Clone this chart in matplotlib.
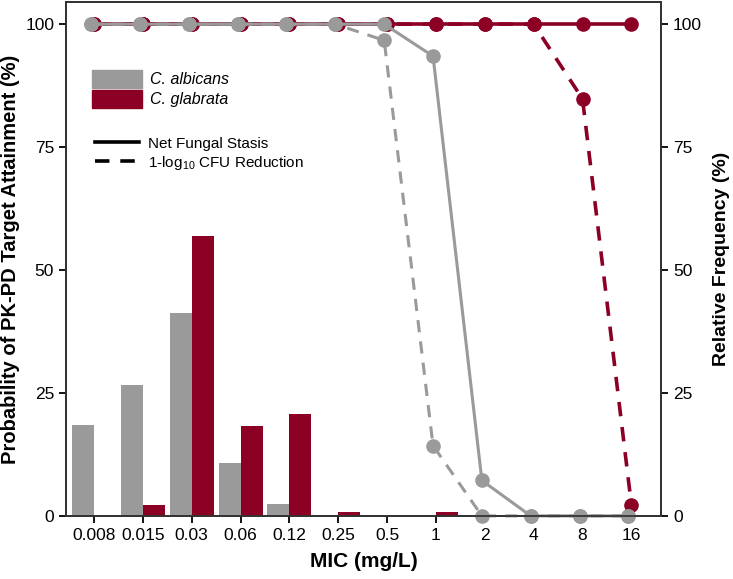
import numpy as np
import matplotlib.pyplot as plt
from matplotlib.patches import Patch
from matplotlib.lines import Line2D

plt.rcParams['font.family'] = ['Liberation Sans', 'DejaVu Sans']
plt.rcParams['mathtext.fontset'] = 'custom'
plt.rcParams['mathtext.rm'] = 'Liberation Sans'

# MIC categories (mg/L)
mic = ['0.008', '0.015', '0.03', '0.06', '0.12', '0.25', '0.5', '1', '2', '4', '8', '16']

# relative frequency (%) of isolates
freq_alb = [18.5, 26.7, 41.2, 10.8, 2.5, 0, 0, 0, 0, 0, 0, 0]
freq_gla = [0, 2.3, 57.0, 18.2, 20.7, 0.7, 0, 0.7, 0, 0, 0, 0]

# probability of target attainment (%)
pta_alb_stasis = [100, 100, 100, 100, 100, 100, 100, 93.5, 7.2, 0, 0, 0]
pta_alb_1log = [100, 100, 100, 100, 100, 100, 96.7, 14.3, 0, 0, 0, 0]
pta_gla_stasis = [100, 100, 100, 100, 100, 100, 100, 100, 100, 100, 100, 100]
pta_gla_1log = [100, 100, 100, 100, 100, 100, 100, 100, 100, 100, 84.8, 2.3]

gray = '#9a9a9a'
red = '#8c0026'

fig = plt.figure(figsize=(7.33, 5.79), dpi=100)
ax = fig.add_axes([0.090, 0.109, 0.812, 0.8875])
ax2 = ax.twinx()

x = np.arange(len(mic))
w = 0.45
# bars belong to the right axis
ax2.bar(x - w / 2, freq_alb, width=w, color=gray, zorder=1)
ax2.bar(x + w / 2, freq_gla, width=w, color=red, zorder=1)

# lines on the left axis, drawn above the bars
ax.set_zorder(ax2.get_zorder() + 1)
ax.patch.set_visible(False)

ms = 9.5
ax.plot(x, pta_gla_stasis, '-', color=red, lw=2.6, marker='o', ms=ms, clip_on=False)
ax.plot(x, pta_gla_1log, '--', color=red, lw=2.6, marker='o', ms=ms, dashes=(4, 3), clip_on=False)
ax.plot(x - 0.06, pta_alb_stasis, '-', color=gray, lw=2.2, marker='o', ms=ms, clip_on=False)
ax.plot(x - 0.06, pta_alb_1log, '--', color=gray, lw=2.2, marker='o', ms=ms, dashes=(4, 3), clip_on=False)

for a in (ax, ax2):
    a.set_xlim(-0.574, 11.61)
    a.set_ylim(0, 104.5)
    a.set_yticks([0, 25, 50, 75, 100])
    a.tick_params(direction='out', length=5, width=1.3, labelsize=12.5, colors='black')
    for s in a.spines.values():
        s.set_linewidth(1.3)
        s.set_color('#333333')

ax.set_xticks(x)
ax.set_xticklabels(mic)
ax.set_xlabel('MIC (mg/L)', fontsize=15, fontweight='bold', labelpad=7)
ax.set_ylabel('Probability of PK-PD Target Attainment (%)', fontsize=14.5, fontweight='bold', labelpad=4)
ax2.set_ylabel('Relative Frequency (%)', fontsize=14, fontweight='bold', labelpad=8)

h1 = [Patch(color=gray), Patch(color=red)]
leg1 = ax.legend(h1, ['C. albicans', 'C. glabrata'], loc='upper left', bbox_to_anchor=(0.02, 0.895),
                 frameon=False, handlelength=3.1, handleheight=1.3, handletextpad=0.5,
                 labelspacing=0.15, prop={'style': 'italic', 'size': 11.5})
ax.add_artist(leg1)
h2 = [Line2D([], [], color='black', lw=2.6), Line2D([], [], color='black', lw=2.6, ls='--', dashes=(4, 3))]
ax.legend(h2, ['Net Fungal Stasis', '1-log$_{10}$ CFU Reduction'], loc='upper left',
          bbox_to_anchor=(0.025, 0.765), frameon=False, handlelength=2.9, handletextpad=0.6,
          labelspacing=0.2, fontsize=11)

fig.savefig('out.png', dpi=100)
